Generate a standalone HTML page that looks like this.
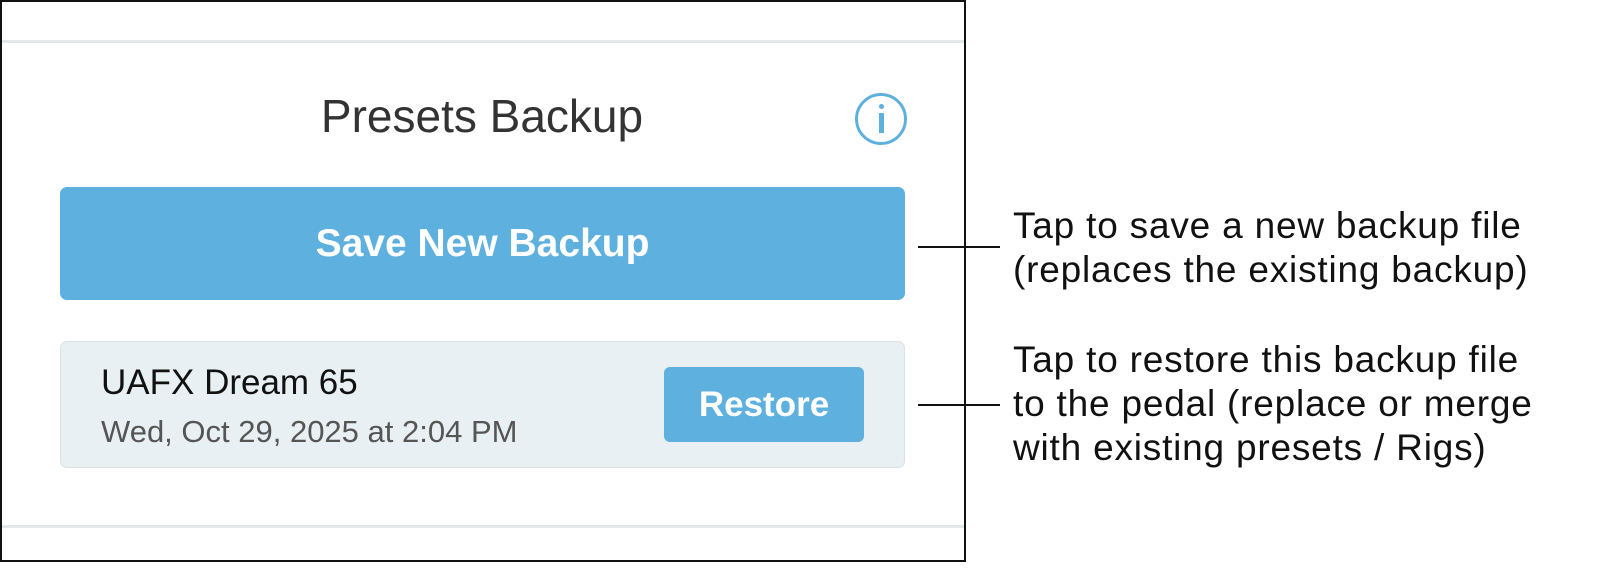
<!DOCTYPE html>
<html><head><style>
body{margin:0;width:1600px;height:573px;background:#fff;position:relative;overflow:hidden;font-family:"Liberation Sans",sans-serif}
.a{position:absolute}
</style></head><body>
<div class="a" style="left:0;top:0;width:962px;height:558px;border:2px solid #111"></div>
<div class="a" style="left:2px;top:40px;width:962px;height:3px;background:#e3e8eb"></div>
<div class="a" style="left:2px;top:525px;width:962px;height:3px;background:#e3e8eb"></div>
<div class="a" style="left:0;top:90px;width:964px;text-align:center;font-size:46px;color:#333;line-height:52px">Presets Backup</div>
<div class="a" style="left:855px;top:93px;width:46px;height:46px;border:3px solid #5eb0de;border-radius:50%"></div>
<div class="a" style="left:879px;top:104px;width:5px;height:5px;background:#5eb0de;border-radius:50%"></div>
<div class="a" style="left:879px;top:113px;width:5px;height:20px;background:#5eb0de"></div>
<div class="a" style="left:60px;top:187px;width:845px;height:113px;background:#5eb0de;border-radius:7px;color:#fff;font-weight:bold;font-size:39px;text-align:center;line-height:113px">Save New Backup</div>
<div class="a" style="left:60px;top:341px;width:843px;height:125px;background:#e8f0f4;border:1px solid #d7e1e7;border-radius:7px"></div>
<div class="a" style="left:101px;top:363px;font-size:35px;color:#111">UAFX Dream 65</div>
<div class="a" style="left:101px;top:414px;font-size:31px;color:#555">Wed, Oct 29, 2025 at 2:04 PM</div>
<div class="a" style="left:664px;top:367px;width:200px;height:75px;background:#5eb0de;border-radius:6px;color:#fff;font-weight:bold;font-size:35px;text-align:center;line-height:75px">Restore</div>
<div class="a" style="left:918px;top:246px;width:82px;height:2px;background:#111"></div>
<div class="a" style="left:918px;top:404px;width:82px;height:2px;background:#111"></div>
<div class="a" style="left:1013px;top:204px;font-size:37px;line-height:44px;letter-spacing:0.8px;color:#111;white-space:nowrap">Tap to save a new backup file<br>(replaces the existing backup)</div>
<div class="a" style="left:1013px;top:338px;font-size:37px;line-height:44px;letter-spacing:0.8px;color:#111;white-space:nowrap">Tap to restore this backup file<br>to the pedal (replace or merge<br>with existing presets / Rigs)</div>
</body></html>
